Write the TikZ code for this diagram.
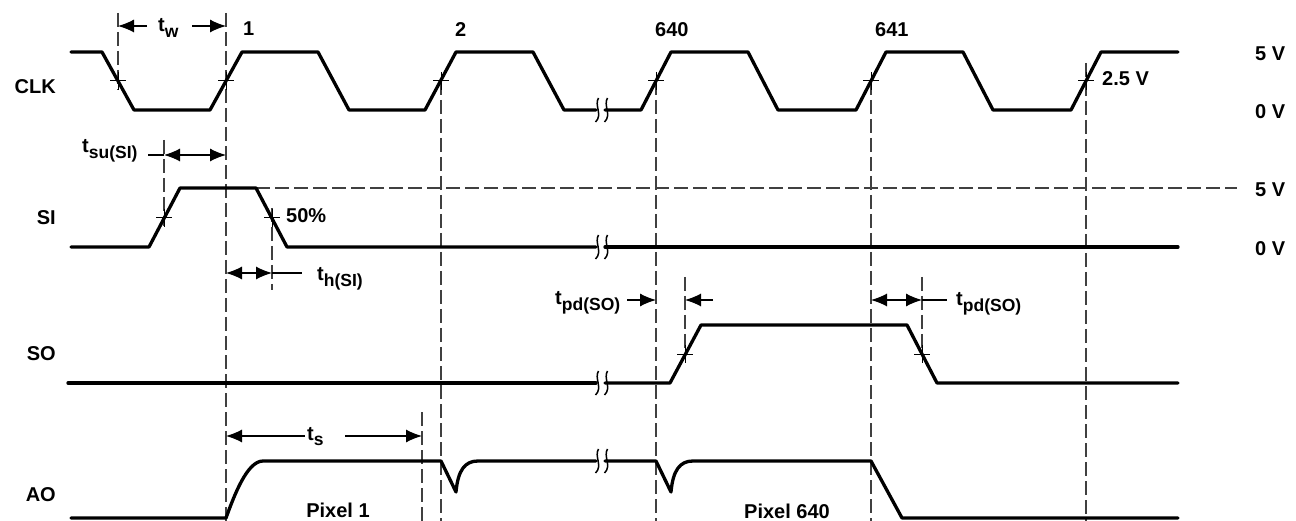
\documentclass[tikz,border=0pt]{standalone}
\usepackage{fontspec}
\setmainfont{Liberation Sans}
\usetikzlibrary{arrows.meta}
\newcommand\tlab[1]{t\raisebox{-5.5pt}{\fontsize{17.5}{19}\selectfont #1}}
\begin{document}
\begin{tikzpicture}[x=1pt,y=-1pt,
 wave/.style={line width=3.3pt,line join=round,line cap=round},
 guide/.style={line width=1.2pt,draw=black!75,dash pattern=on 14pt off 5pt},
 dim/.style={line width=1.2pt,-{Latex[length=16pt,width=13pt]}},
 dimboth/.style={line width=1.2pt,{Latex[length=16pt,width=13pt]}-{Latex[length=16pt,width=13pt]}},
 lead/.style={line width=1.2pt},
 lbl/.style={font=\fontsize{20}{22}\bfseries\selectfont, inner sep=0pt},
 xhair/.pic={\draw[line width=1pt] (-8,0)--(8,0) (0,-9)--(0,9);},
 brk/.pic={\draw[line width=1.5pt] (-2.5,-12) .. controls (-7,-5) and (2,5) .. (-5.5,12)
                                   (6.5,-12) .. controls (2,-5) and (11,5) .. (3.5,12);}
]
\useasboundingbox (0,0) rectangle (1296,521);

% ---------- guide lines ----------
\draw[guide] (118,13) -- (118,90);
\draw[guide] (226,13) -- (226,521);
\draw[guide] (164,140) -- (164,226);
\draw[guide] (272,208) -- (272,290);
\draw[guide] (441,81) -- (441,521);
\draw[guide] (656,81) -- (656,521);
\draw[guide] (871,81) -- (871,521);
\draw[guide] (1086,63) -- (1086,521);
\draw[guide] (685,277) -- (685,354);
\draw[guide] (922,277) -- (922,354);
\draw[guide] (422,412) -- (422,521);
\draw[guide] (256,188) -- (1237,188);

% ---------- waveforms ----------
% CLK
\draw[wave] (71,52)--(102,52)--(134,110)--(210,110)--(242,52)--(318,52)--(349,110)--(425,110)
  --(456,52)--(533,52)--(564,110)--(596,110);
\draw[wave] (605,110)--(641,110)--(671,52)--(748,52)--(778,110)--(856,110)--(886,52)
  --(963,52)--(993,110)--(1071,110)--(1101,52)--(1178,52);
% SI
\draw[wave] (71,247)--(149,247)--(180,188)--(256,188)--(287,247)--(596,247);
\draw[wave] (605,247)--(1178,247);
% SO
\draw[wave] (68,383)--(596,383);
\draw[wave] (605,383)--(670,383)--(701,325)--(907,325)--(937,383)--(1178,383);
% AO
\draw[wave] (71,518)--(226,518) .. controls (234,496) and (247,461) .. (263,461)--(441,461)
  --(456,492) .. controls (458,470) and (465,461) .. (478,461)--(596,461);
\draw[wave] (605,461)--(656,461)--(671,492) .. controls (673,470) and (680,461) .. (693,461)
  --(871,461)--(902,518)--(1178,518);

% break marks
\pic at (601,110) {brk};
\pic at (601,247) {brk};
\pic at (601,383) {brk};
\pic at (601,461) {brk};

% crossing marks
\foreach \xx in {118,226,441,656,871,1086} \pic at (\xx,81) {xhair};
\pic at (164,218) {xhair};
\pic at (272,218) {xhair};
\pic at (685,354) {xhair};
\pic at (922,354) {xhair};

% ---------- dimension arrows ----------
\node[lbl,anchor=base west] (tw) at (158,32) {\tlab{w}};
\draw[dim] (147,26) -- (118,26);
\draw[dim] (192,26) -- (226,26);

\node[lbl,anchor=base west] (tsu) at (82,153) {\tlab{su(SI)}};
\draw[lead] (148,155) -- (164,155);
\draw[dimboth] (164,155) -- (226,155);

\node[lbl,anchor=base west] (th) at (317,281) {\tlab{h(SI)}};
\draw[dimboth] (226,273) -- (272,273);
\draw[lead] (272,273) -- (302,273);

\node[lbl,anchor=base west] (tpd1) at (555,305) {\tlab{pd(SO)}};
\draw[dim] (627,300) -- (656,300);
\draw[dim] (713,300) -- (685,300);

\draw[dimboth] (871,300) -- (922,300);
\draw[lead] (922,300) -- (947,300);
\node[lbl,anchor=base west] (tpd2) at (956,306) {\tlab{pd(SO)}};

\node[lbl,anchor=base west] (ts) at (307,440) {\tlab{s}};
\draw[dim] (305,436) -- (226,436);
\draw[dim] (345,436) -- (422,436);

% ---------- labels ----------
\node[lbl,anchor=east] (lclk) at (56,87) {CLK};
\node[lbl,anchor=east] (lsi) at (56,218) {SI};
\node[lbl,anchor=east] (lso) at (56,354) {SO};
\node[lbl,anchor=east] (lao) at (56,495) {AO};

\node[lbl,anchor=west] (n1) at (243,29) {1};
\node[lbl,anchor=west] (n2) at (455,30) {2};
\node[lbl,anchor=west] (n640) at (655,30) {640};
\node[lbl,anchor=west] (n641) at (875,30) {641};

\node[lbl,anchor=west] (v5a) at (1255,54) {5 V};
\node[lbl,anchor=west] (v0a) at (1255,112) {0 V};
\node[lbl,anchor=west] (v5b) at (1255,190) {5 V};
\node[lbl,anchor=west] (v0b) at (1255,249) {0 V};
\node[lbl,anchor=west] (v25) at (1102,79) {2.5 V};
\node[lbl,anchor=west] (p50) at (286,216) {50\%};

\node[lbl] (px1) at (338,510) {Pixel 1};
\node[lbl] (px640) at (787,511) {Pixel 640};
\end{tikzpicture}
\end{document}
